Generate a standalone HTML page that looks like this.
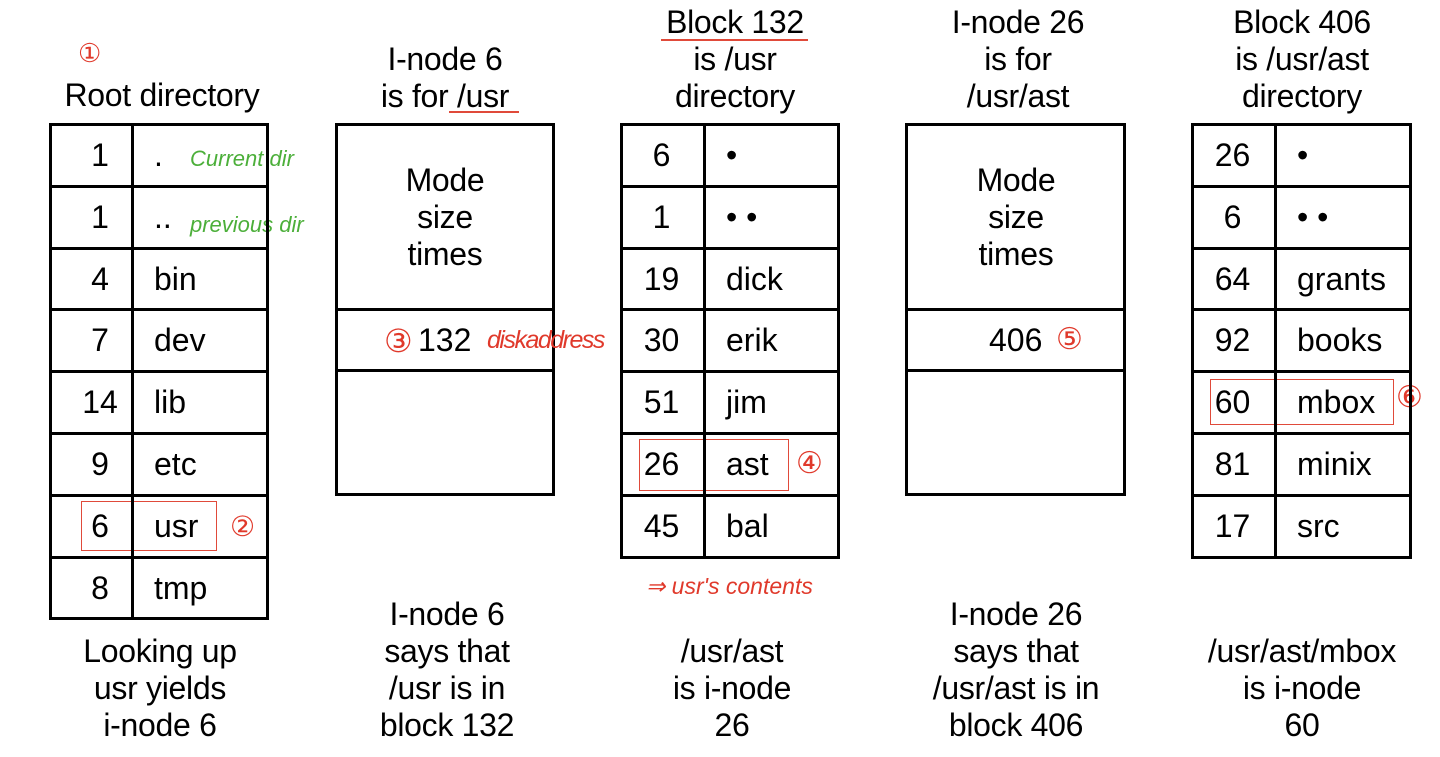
<!DOCTYPE html>
<html><head><meta charset="utf-8"><style>
body{margin:0;width:1440px;height:757px;background:#fff;position:relative;overflow:hidden;font-family:"Liberation Sans",sans-serif;color:#000}
.abs{position:absolute}
.cap{position:absolute;text-align:center;font-size:32px;line-height:37px;width:300px;letter-spacing:-0.3px}
.box{position:absolute;border:3px solid #000;box-sizing:border-box}
.hl{position:absolute;height:3px;background:#000}
.vl{position:absolute;width:3px;background:#000}
.t{position:absolute;font-size:32px;line-height:30px}
.red{color:#e0392b;font-family:"Liberation Sans",sans-serif}
.green{color:#4caf3a;font-style:italic}
.rbox{position:absolute;border:1.5px solid #e04a3a}
</style></head><body>
<div id="root"></div>
<div class="cap" style="left:12px;top:77px">Root directory</div>
<div class="cap" style="left:295px;top:41px">I-node 6<br>is for /usr</div>
<div class="cap" style="left:585px;top:4px">Block 132<br>is /usr<br>directory</div>
<div class="cap" style="left:868px;top:4px">I-node 26<br>is for<br>/usr/ast</div>
<div class="cap" style="left:1152px;top:4px">Block 406<br>is /usr/ast<br>directory</div>
<div class="abs" style="left:449px;top:111px;width:70px;height:2px;background:#e04a3a"></div>
<div class="abs" style="left:661px;top:39px;width:147px;height:2px;background:#e04a3a"></div>

<div class="cap" style="left:10px;top:633px">Looking up<br>usr yields<br>i-node 6</div>
<div class="cap" style="left:297px;top:596px">I-node 6<br>says that<br>/usr is in<br>block 132</div>
<div class="cap" style="left:582px;top:633px">/usr/ast<br>is i-node<br>26</div>
<div class="cap" style="left:866px;top:596px">I-node 26<br>says that<br>/usr/ast is in<br>block 406</div>
<div class="cap" style="left:1152px;top:633px">/usr/ast/mbox<br>is i-node<br>60</div>

<div class="box" style="left:335px;top:123px;width:220px;height:373px"></div>
<div class="hl" style="left:335px;top:308px;width:220px"></div>
<div class="hl" style="left:335px;top:369px;width:220px"></div>
<div class="cap" style="left:295px;top:162px">Mode<br>size<br>times</div>
<div class="t" style="left:418px;top:325px">132</div>
<div class="box" style="left:905px;top:123px;width:221px;height:373px"></div>
<div class="hl" style="left:905px;top:308px;width:221px"></div>
<div class="hl" style="left:905px;top:369px;width:221px"></div>
<div class="cap" style="left:866px;top:162px">Mode<br>size<br>times</div>
<div class="t" style="left:989px;top:325px">406</div>

<div class="abs red" style="left:78px;top:38px;font-size:26px">①</div>
<div class="abs red" style="left:230px;top:510px;font-size:28px">②</div>
<div class="abs red" style="left:384px;top:322px;font-size:32px">③</div>
<div class="abs red" style="left:487px;top:326px;font-size:25px;font-style:italic;letter-spacing:-1.5px">diskaddress</div>
<div class="abs red" style="left:796px;top:446px;font-size:30px">④</div>
<div class="abs red" style="left:1056px;top:322px;font-size:30px">⑤</div>
<div class="abs red" style="left:1396px;top:380px;font-size:30px">⑥</div>
<div class="abs red" style="left:646px;top:573px;font-size:23px;font-style:italic">⇒ usr's contents</div>
<div class="abs green" style="left:190px;top:146px;font-size:22px">Current dir</div>
<div class="abs green" style="left:190px;top:212px;font-size:22px">previous dir</div>
<div class="rbox" style="left:81px;top:501px;width:134px;height:48px"></div>
<div class="rbox" style="left:639px;top:439px;width:148px;height:50px"></div>
<div class="rbox" style="left:1210px;top:379px;width:182px;height:44px"></div>

<script>
const dir1Nums=["1","1","4","7","14","9","6","8"];
const dir1Names=[".","..","bin","dev","lib","etc","usr","tmp"];
const dir2Nums=["6","1","19","30","51","26","45"];
const dir2Names=["•","• •","dick","erik","jim","ast","bal"];
const dir3Nums=["26","6","64","92","60","81","17"];
const dir3Names=["•","• •","grants","books","mbox","minix","src"];
function dir(x,div,w,nums,names,nm){
  const top=123,rh=61.8,n=nums.length;
  const b=document.createElement('div');b.className='box';
  b.style.cssText=`left:${x}px;top:${top}px;width:${w}px;height:${Math.round(rh*n)+3}px`;
  
  
  document.body.appendChild(b);
  const v=document.createElement('div');v.className='vl';
  v.style.cssText=`left:${div}px;top:${top}px;height:${Math.round(rh*n)+3}px`;
  document.body.appendChild(v);
  for(let i=0;i<n;i++){
    const y=top+i*rh;
    if(i>0){const h=document.createElement('div');h.className='hl';h.style.cssText=`left:${x}px;top:${Math.round(y)}px;width:${w}px`;document.body.appendChild(h);}
    const a=document.createElement('div');a.className='t';
    a.style.cssText=`left:${x}px;width:${div-x}px;text-align:center;top:${Math.round(y+17)}px;padding-left:${nm==='root'?20:0}px;box-sizing:border-box`;
    a.textContent=nums[i];
    
    
    document.body.appendChild(a);
    const c=document.createElement('div');c.className='t';
    c.style.cssText=`left:${div+23}px;top:${Math.round(y+17)}px`;
    c.textContent=names[i];
    
    
    document.body.appendChild(c);
  }
}
dir(49,131,220,dir1Nums,dir1Names,'root');
dir(620,703,220,dir2Nums,dir2Names,'usr');
dir(1191,1274,221,dir3Nums,dir3Names,'ast');
</script>
</body></html>
